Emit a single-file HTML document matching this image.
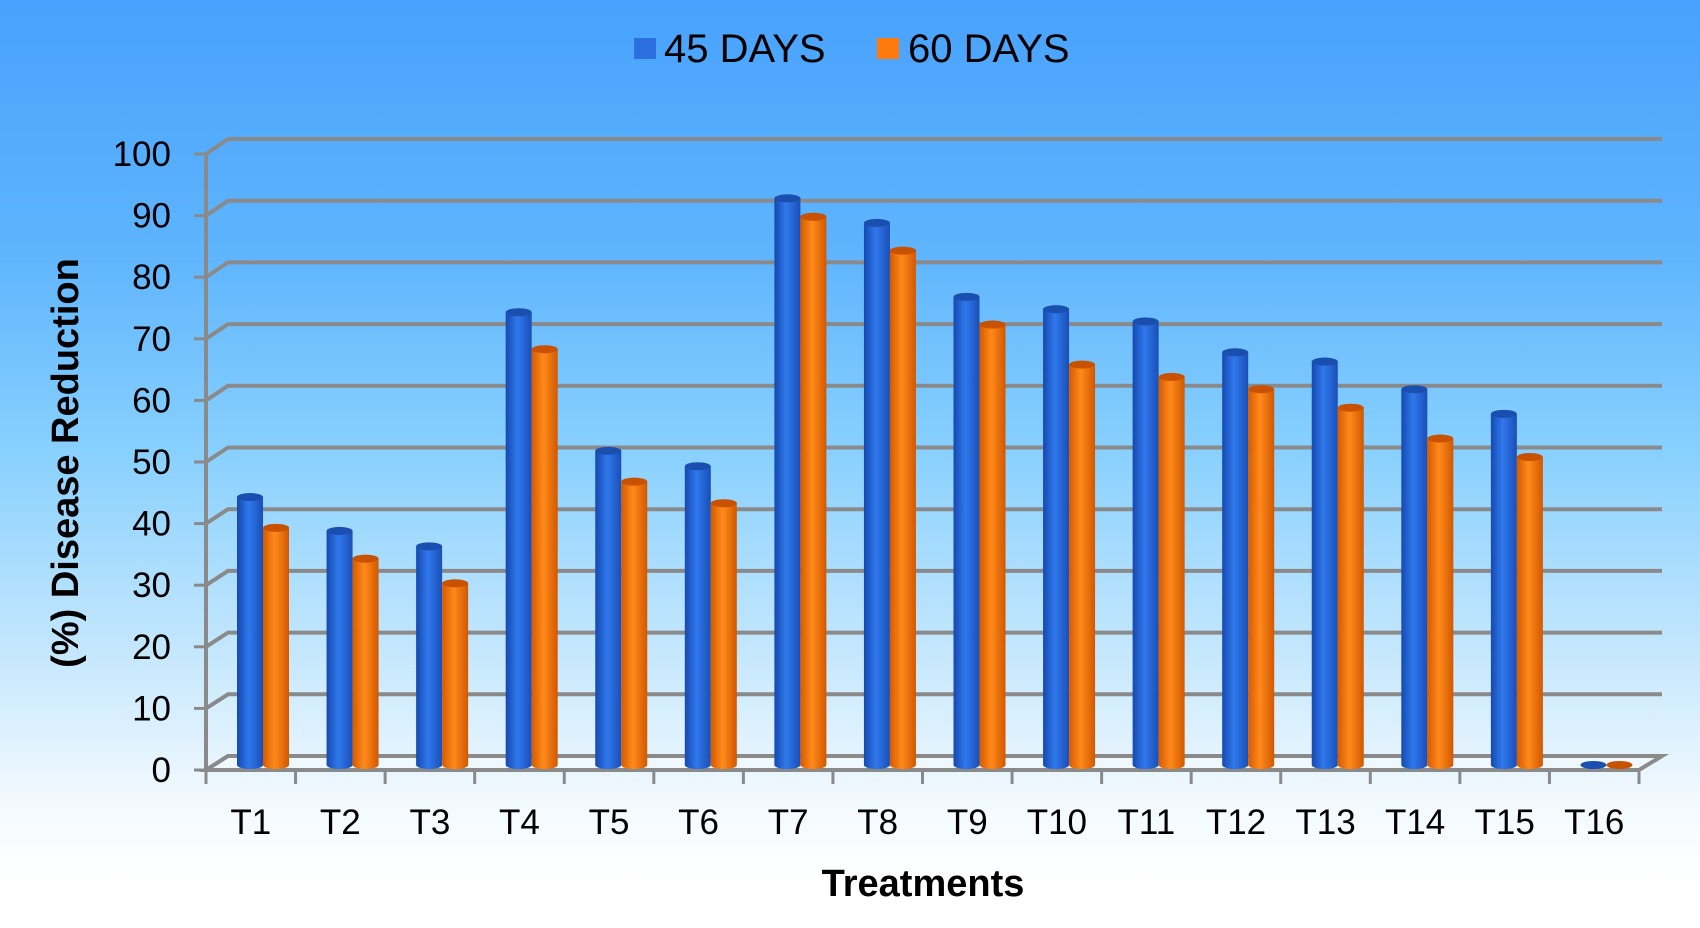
<!DOCTYPE html>
<html><head><meta charset="utf-8"><style>
html,body{margin:0;padding:0}
body{width:1700px;height:928px;overflow:hidden;font-family:"Liberation Sans",sans-serif;
background:linear-gradient(to bottom,#48a2fd 0px,#5eb4fd 250px,#88d0fe 450px,#c4e7fd 650px,#f2f9fe 800px,#ffffff 880px)}
svg{position:absolute;left:0;top:0}
</style></head><body>
<svg width="1700" height="928">
<defs>
<linearGradient id="gb" x1="0" x2="1"><stop offset="0" stop-color="#1549b0"/><stop offset="0.45" stop-color="#2f78ec"/><stop offset="1" stop-color="#1a4fb8"/></linearGradient>
<linearGradient id="go" x1="0" x2="1"><stop offset="0" stop-color="#d65a00"/><stop offset="0.45" stop-color="#ff8a1a"/><stop offset="1" stop-color="#d25800"/></linearGradient>
</defs>
<g id="grid"></g><g id="bars"></g><g id="labels"></g>
<g>
<rect x="634" y="38" width="22" height="21" fill="#2b6fe0"/>
<text x="664" y="62" font-size="40" fill="#000">45 DAYS</text>
<rect x="877" y="38" width="22" height="21" fill="#ff7a0e"/>
<text x="908" y="62" font-size="40" fill="#000">60 DAYS</text>
</g>
<text x="923" y="896" font-size="38" font-weight="bold" text-anchor="middle">Treatments</text>
<text transform="translate(78,463) rotate(-90)" font-size="38" font-weight="bold" text-anchor="middle">(%) Disease Reduction</text>
</svg>
<script>
const categories=["T1","T2","T3","T4","T5","T6","T7","T8","T9","T10","T11","T12","T13","T14","T15","T16"];
const days45=[43.5,38,35.5,73.5,51,48.5,92,88,76,74,72,67,65.5,61,57,0];
const days60=[38.5,33.5,29.5,67.5,46,42.5,89,83.5,71.5,65,63,61,58,53,50,0];
const yTicks=[0,10,20,30,40,50,60,70,80,90,100];
const NS="http://www.w3.org/2000/svg";
const fx0=206,fx1=1639,fy0=770,fy100=154,bx0=228,bx1=1662,by0=756,by100=139;
const cw=(fx1-fx0)/categories.length;
const fy=v=>fy0-(fy0-fy100)*v/100, byy=v=>by0-(by0-by100)*v/100, barY=v=>765-6.16*v;
function mk(t,a,p){const e=document.createElementNS(NS,t);for(const k in a)e.setAttribute(k,a[k]);p.appendChild(e);return e;}
const grid=document.getElementById('grid'),bars=document.getElementById('bars'),labels=document.getElementById('labels');
const gc="#8a8a8a";
// floor
const fl=mk('polygon',{points:`${fx0},${fy0} ${bx0},${by0} ${bx1},${by0} ${fx1},${fy0}`,fill:"rgba(255,255,255,0.35)",stroke:gc,"stroke-width":4},grid);

yTicks.forEach(v=>{
 const l=mk('polyline',{points:`${fx0},${fy(v)} ${bx0},${byy(v)} ${bx1},${byy(v)}`,fill:"none",stroke:gc,"stroke-width":4},grid);
 
 mk('line',{x1:fx0-12,x2:fx0,y1:fy(v),y2:fy(v),stroke:gc,"stroke-width":3},grid);
 const t=mk('text',{x:171,y:fy(v)+12,"font-size":35,"text-anchor":"end"},labels);t.textContent=v;
 
});
mk('line',{x1:fx0,x2:fx0,y1:fy(0),y2:fy(100),stroke:gc,"stroke-width":4},grid);
categories.forEach((c,i)=>{
 const x=fx0+i*cw;
 mk('line',{x1:x,x2:x,y1:fy0,y2:fy0+14,stroke:gc,"stroke-width":3},grid);
 if(i==categories.length-1)mk('line',{x1:x+cw,x2:x+cw,y1:fy0,y2:fy0+14,stroke:gc,"stroke-width":3},grid);
 const t=mk('text',{x:x+cw/2,y:834,"font-size":35,"text-anchor":"middle"},labels);t.textContent=c;
 
 [[days45[i],'url(#gb)','#1a4fb0',x+31,'45'],[days60[i],'url(#go)','#c85200',x+57,'60']].forEach(([v,f,top,bx,s])=>{
  const w=26,yt=barY(v),yb=765;
  const g=mk('g',{},bars);
  
  if(v>0){
   mk('path',{d:`M${bx},${yt} L${bx},${yb} A${w/2},4 0 0 0 ${bx+w},${yb} L${bx+w},${yt} Z`,fill:f},g);
  }
  mk('ellipse',{cx:bx+w/2,cy:yt,rx:w/2,ry:4,fill:top},g);
 });
});
</script>
</body></html>
